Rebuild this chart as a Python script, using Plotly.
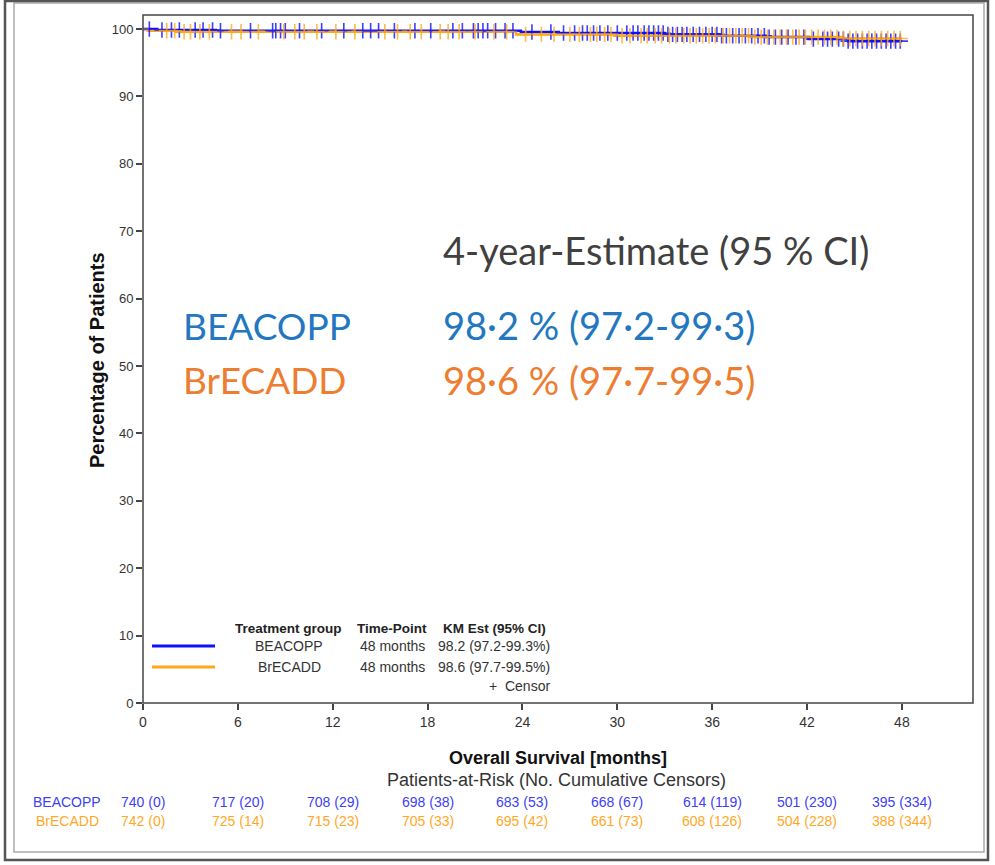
import plotly.graph_objects as go

# ---------------- data ----------------
groups = ["BEACOPP", "BrECADD"]

beacopp_event_times = [0, 0.9, 4.6, 23.9, 26.3, 33.0, 36.5, 39.4, 42.1, 44.6, 48.0]
beacopp_survival = [100, 99.86, 99.73, 99.55, 99.4, 99.2, 99.0, 98.8, 98.5, 98.2, 98.2]

brecadd_event_times = [0, 0.3, 2.1, 23.6, 29.8, 38.4, 44.2, 48.0]
brecadd_survival = [100, 99.73, 99.6, 99.2, 99.0, 98.8, 98.6, 98.6]

beacopp_censor_times = [0.4, 1.2, 1.8, 2.3, 3.3, 3.8, 4.4, 4.9, 6.8, 8.2, 8.4, 8.7, 9.0, 9.9,
                        11.3, 12.7, 13.9, 14.4, 14.9, 15.9, 17.2, 18.2, 19.6, 20.2, 20.9, 21.2,
                        21.5, 21.8, 22.3, 22.9, 23.4, 24.6, 25.8, 26.6, 27.3, 27.8, 28.1, 28.5,
                        28.9, 29.4, 30.0, 30.6, 31.0, 31.3, 31.7, 32.0, 32.3, 32.6, 32.9, 33.2,
                        33.5, 33.8, 34.1, 34.4, 34.8, 35.2, 35.6, 36.0, 36.3, 36.6, 36.9, 37.3,
                        37.7, 38.1, 38.5, 38.9, 39.3, 39.6, 40.0, 40.4, 40.8, 41.3, 41.8, 42.4,
                        43.0, 43.3, 43.6, 44.0, 44.3, 44.6, 44.9, 45.2, 45.5, 45.8, 46.1, 46.4,
                        46.7, 47.0, 47.3, 47.6, 47.9]
brecadd_censor_times = [1.5, 2.0, 2.6, 3.0, 3.6, 4.2, 5.6, 6.2, 7.3, 8.9, 9.6, 10.2, 11.0,
                        12.2, 13.4, 15.3, 16.1, 16.9, 17.6, 18.8, 19.3, 20.0, 21.0, 22.2,
                        23.0, 24.2, 25.2, 26.0, 27.0, 27.6, 28.3, 28.7, 29.2, 29.6, 30.3,
                        30.8, 31.5, 31.9, 32.4, 32.8, 33.3, 33.7, 34.2, 34.6, 35.0, 35.4,
                        35.8, 36.2, 36.7, 37.1, 37.5, 37.9, 38.3, 38.7, 39.1, 39.5, 39.9,
                        40.3, 40.7, 41.1, 41.5, 41.9, 42.3, 42.7, 43.1, 43.5, 43.9, 44.3,
                        44.7, 45.1, 45.5, 45.9, 46.3, 46.7, 47.1, 47.5, 47.9]

risk_times = [0, 6, 12, 18, 24, 30, 36, 42, 48]
beacopp_at_risk = [740, 717, 708, 698, 683, 668, 614, 501, 395]
beacopp_cum_censors = [0, 20, 29, 38, 53, 67, 119, 230, 334]
brecadd_at_risk = [742, 725, 715, 705, 695, 661, 608, 504, 388]
brecadd_cum_censors = [0, 14, 23, 33, 42, 73, 126, 228, 344]

km_timepoint = ["48 months", "48 months"]
km_estimate = ["98.2 (97.2-99.3%)", "98.6 (97.7-99.5%)"]
big_estimate = ["98·2 % (97·2-99·3)", "98·6 % (97·7-99·5)"]

x_ticks = [0, 6, 12, 18, 24, 30, 36, 42, 48]
y_ticks = [0, 10, 20, 30, 40, 50, 60, 70, 80, 90, 100]

# ---------------- styling ----------------
BLUE = "#1010FF"
ORANGE = "#FFA91A"
RISK_BLUE = "#4040F5"
RISK_ORANGE = "#FFA826"
BIG_BLUE = "#2277C0"
BIG_ORANGE = "#ED7D31"
TXT = "#333333"
FONT = "Liberation Sans, Arial, sans-serif"
BIGFONT = "Lato, Open Sans, sans-serif"

W, H = 995, 865
L, R, T, B = 143, 973, 15, 703


def px(x):
    return (x - L) / (R - L)


def py(y):
    return (B - y) / (B - T)


def surv_at(times, surv, t):
    v = surv[0]
    for ti, si in zip(times, surv):
        if ti <= t:
            v = si
    return v


fig = go.Figure()

series = [
    (beacopp_event_times, beacopp_survival, beacopp_censor_times, BLUE),
    (brecadd_event_times, brecadd_survival, brecadd_censor_times, ORANGE),
]
for times, surv, ctimes, col in series:
    fig.add_trace(go.Scatter(x=times, y=surv, mode="lines", line=dict(color=col, width=2.5, shape="hv"),
                             showlegend=False, hoverinfo="skip"))
for times, surv, ctimes, col in series:
    fig.add_trace(go.Scatter(x=ctimes, y=[surv_at(times, surv, t) for t in ctimes], mode="markers",
                             marker=dict(symbol="cross-thin", size=11, line=dict(color=col, width=1.6)),
                             opacity=0.8, showlegend=False, hoverinfo="skip"))

ann = []
shapes = []

# in-plot legend
legend_cols = [(288, "Treatment group"), (392, "Time-Point"), (494, "KM Est (95% CI)")]
for x, t in legend_cols:
    ann.append(dict(x=px(x), y=py(628), text="<b>" + t + "</b>", showarrow=False,
                    font=dict(family=FONT, size=13.5, color="#222222")))
for i, (g, col) in enumerate(zip(groups, [BLUE, ORANGE])):
    yy = 646 + 21 * i
    shapes.append(dict(type="line", xref="paper", yref="paper", x0=px(152), x1=px(215), y0=py(yy), y1=py(yy),
                       line=dict(color=col, width=3)))
    ann.append(dict(x=px(289), y=py(yy), text=g, showarrow=False, font=dict(family=FONT, size=14, color=TXT)))
    ann.append(dict(x=px(392), y=py(yy), text=km_timepoint[i], showarrow=False,
                    font=dict(family=FONT, size=14, color=TXT)))
    ann.append(dict(x=px(494), y=py(yy), text=km_estimate[i], showarrow=False,
                    font=dict(family=FONT, size=14, color=TXT)))
ann.append(dict(x=px(552), y=py(686), text="+  Censor", showarrow=False, xanchor="right",
                font=dict(family=FONT, size=14, color=TXT)))

# big overlay text
ann.append(dict(x=px(441), y=py(250), text="4-year-Estimate (95 % CI)", showarrow=False, xanchor="left",
                font=dict(family=BIGFONT, size=38, color="#404040")))
for i, (g, col) in enumerate(zip(groups, [BIG_BLUE, BIG_ORANGE])):
    yy = 325 + 55 * i
    ann.append(dict(x=px(181), y=py(yy), text=g, showarrow=False, xanchor="left",
                    font=dict(family=BIGFONT, size=37, color=col)))
    ann.append(dict(x=px(441), y=py(yy), text=big_estimate[i], showarrow=False, xanchor="left",
                    font=dict(family=BIGFONT, size=38, color=col)))

# axis titles
ann.append(dict(x=px(558), y=py(758), text="<b>Overall Survival [months]</b>", showarrow=False,
                font=dict(family=FONT, size=18, color="#111111")))
ann.append(dict(x=px(556), y=py(780), text="Patients-at-Risk (No. Cumulative Censors)", showarrow=False,
                font=dict(family=FONT, size=18, color=TXT)))
ann.append(dict(x=px(97), y=py(360), text="<b>Percentage of Patients</b>", showarrow=False, textangle=-90,
                font=dict(family=FONT, size=20, color="#111111")))

# at-risk table
for i, (g, col, risk, cens) in enumerate([
    ("BEACOPP", RISK_BLUE, beacopp_at_risk, beacopp_cum_censors),
    ("BrECADD", RISK_ORANGE, brecadd_at_risk, brecadd_cum_censors),
]):
    yy = 802 + 19 * i
    ann.append(dict(x=px(67), y=py(yy), text=g, showarrow=False, font=dict(family=FONT, size=14, color=col)))
    for t, r, c in zip(risk_times, risk, cens):
        ann.append(dict(x=t, xref="x", y=py(yy), text=f"{r} ({c})", showarrow=False,
                        font=dict(family=FONT, size=14, color=col)))

for a in ann:
    a.setdefault("xref", "paper")
    a.setdefault("yref", "paper")
    a.setdefault("xanchor", "center")
    a.setdefault("yanchor", "middle")

# frames
shapes.append(dict(type="rect", xref="paper", yref="paper", x0=0, x1=1, y0=0, y1=1,
                   line=dict(color="#444444", width=1.5)))
shapes.append(dict(type="rect", xref="paper", yref="paper", x0=px(14), x1=px(984), y0=py(852), y1=py(3),
                   line=dict(color="#AAAAAA", width=1.5)))
shapes.append(dict(type="rect", xref="paper", yref="paper", x0=px(5), x1=px(988), y0=py(860), y1=py(1),
                   line=dict(color="#555555", width=2.5)))

fig.update_layout(
    width=W, height=H,
    margin=dict(l=L, r=W - R, t=T, b=H - B),
    paper_bgcolor="white", plot_bgcolor="white",
    annotations=ann, shapes=shapes, showlegend=False,
    xaxis=dict(range=[0, (R - L) / 15.81], tickvals=x_ticks, ticks="outside", ticklen=6, tickwidth=1.5,
               tickcolor="#444444", showgrid=False, zeroline=False, showline=False,
               tickfont=dict(family=FONT, size=14, color=TXT), fixedrange=True),
    yaxis=dict(range=[0, (B - T) / 6.74], tickvals=y_ticks, ticks="outside", ticklen=6, tickwidth=1.5,
               tickcolor="#444444", showgrid=False, zeroline=False, showline=False,
               tickfont=dict(family=FONT, size=13, color=TXT), fixedrange=True),
)

fig.write_html("out.html", config={"displayModeBar": False},
               post_script="document.body.style.margin='0px';")
